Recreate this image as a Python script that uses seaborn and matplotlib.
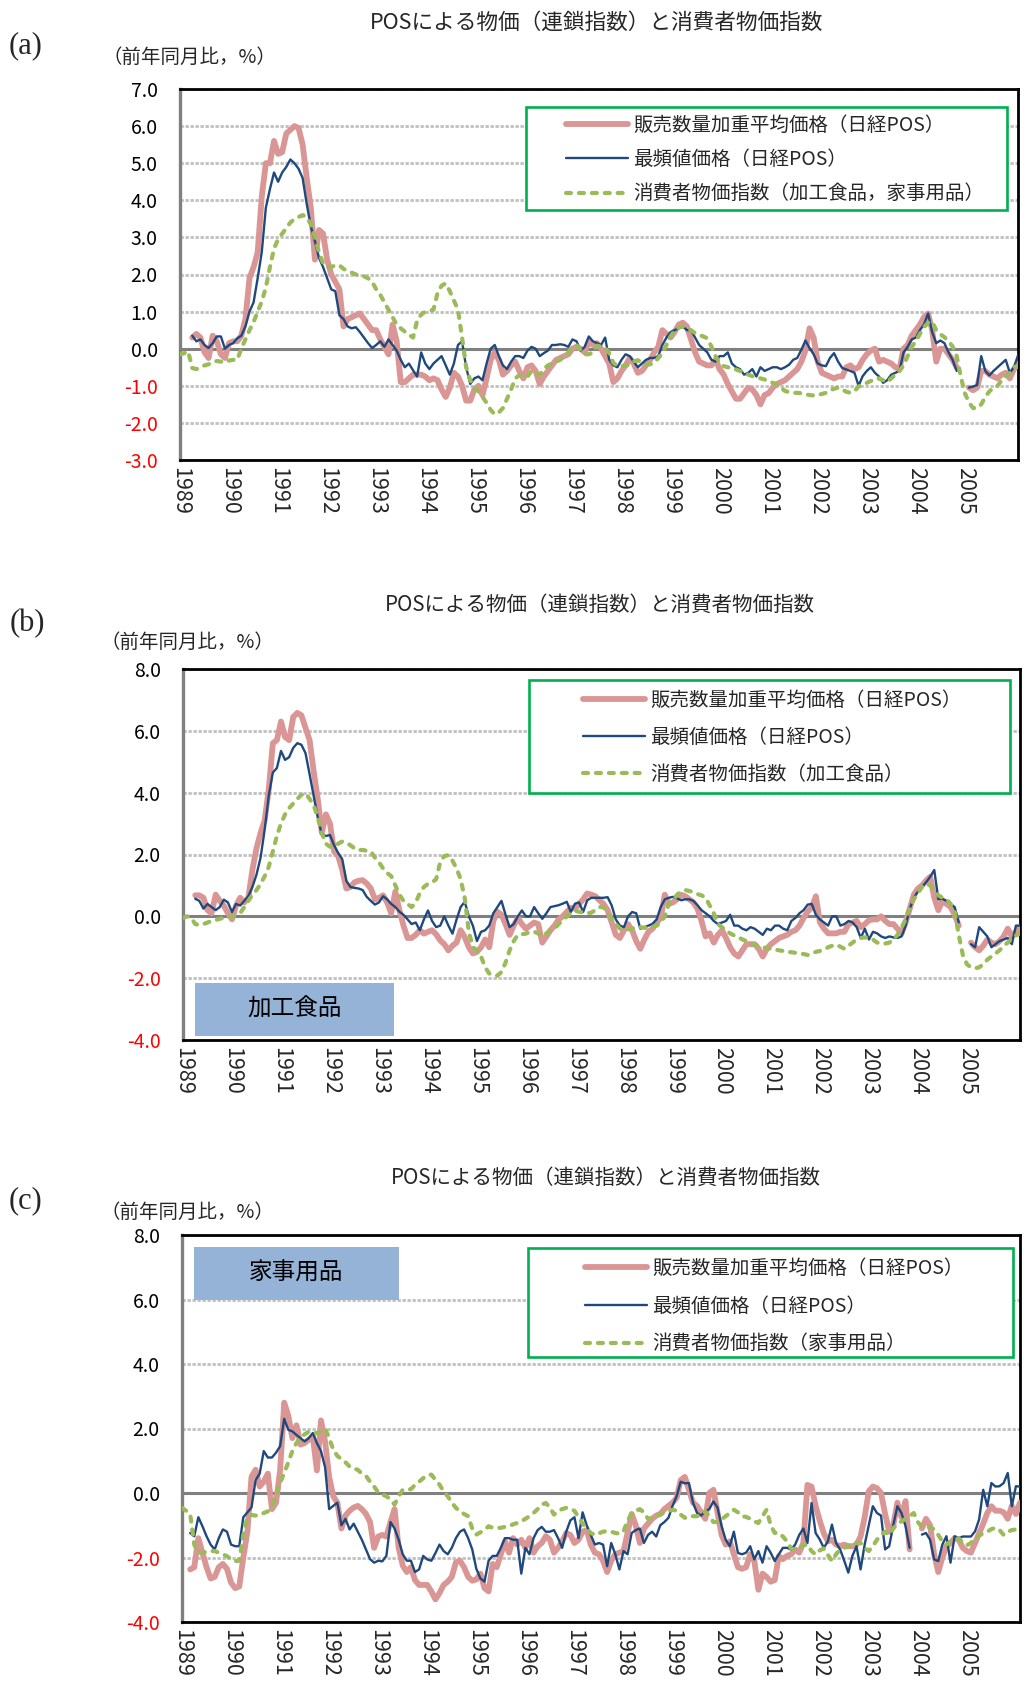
import numpy as np
import pandas as pd
import matplotlib
matplotlib.use("Agg")
import matplotlib.pyplot as plt
from matplotlib.patches import Rectangle
from matplotlib.lines import Line2D
import seaborn as sns

nan = np.nan

# Monthly year-on-year changes (%), Jan 1989 .. Feb 2006
years = [str(y) for y in range(1989, 2006)]
n_months = 206

# ---------------- (a) 加工食品・家事用品 ----------------
pos_avg_a = [
    nan, nan, nan, 0.3, 0.4, 0.3, -0.1, -0.25, 0.35, 0.2, -0.15, -0.25,
    0.15, 0.2, 0.2, 0.35, 0.8, 1.9, 2.2, 2.6, 4.1, 5.0, 5.0, 5.6,
    5.25, 5.3, 5.8, 5.9, 6.0, 5.95, 5.5, 4.6, 3.8, 2.4, 3.2, 3.1,
    2.4, 2.0, 1.8, 1.6, 0.6, 0.8, 0.85, 0.9, 0.95, 0.8, 0.65, 0.5,
    0.5, 0.25, 0.05, -0.15, 0.65, 0.2, -0.9, -0.9, -0.8, -0.7, -0.7, -0.7,
    -0.75, -0.85, -0.8, -0.85, -1.1, -1.3, -1.05, -0.65, -0.75, -1.0, -1.4, -1.4,
    -1.1, -1.0, -1.25, -0.8, -0.3, -0.1, -0.3, -0.7, -0.6, -0.45, -0.35, -0.6,
    -0.8, -0.5, -0.45, -0.6, -0.95, -0.75, -0.6, -0.45, -0.3, -0.25, -0.2, -0.15,
    0.0, 0.05, 0.0, -0.1, 0.2, 0.1, 0.15, 0.0, -0.2, -0.4, -0.9, -0.8,
    -0.6, -0.45, -0.25, -0.4, -0.65, -0.6, -0.45, -0.3, -0.1, 0.05, 0.5, 0.4,
    0.3, 0.45, 0.65, 0.7, 0.6, 0.25, -0.1, -0.35, -0.4, -0.45, -0.45, -0.3,
    -0.55, -0.7, -0.95, -1.15, -1.35, -1.35, -1.2, -1.05, -1.1, -1.25, -1.5, -1.25,
    -1.2, -1.05, -0.95, -0.9, -0.85, -0.75, -0.65, -0.55, -0.35, -0.05, 0.55, 0.3,
    -0.35, -0.65, -0.7, -0.75, -0.8, -0.75, -0.75, -0.5, -0.45, -0.55, -0.5, -0.3,
    -0.15, -0.05, 0.0, -0.35, -0.3, -0.35, -0.4, -0.5, -0.55, 0.0, 0.1, 0.35,
    0.5, 0.65, 0.85, 0.95, 0.5, -0.35, 0.0, 0.0, -0.15, -0.3, -0.5, nan,
    nan, -1.05, -1.12, -1.05, -0.6, -0.6, -0.7, -0.75, -0.8, -0.7, -0.65, -0.8,
    -0.55, -0.4,
]
pos_mode_a = [
    nan, nan, nan, 0.35, 0.2, 0.25, 0.1, 0.02, 0.15, 0.33, 0.33, 0.0,
    0.1, 0.15, 0.28, 0.35, 0.6, 1.0, 1.25, 1.9, 2.6, 3.8, 4.3, 4.75,
    4.5, 4.75, 4.9, 5.1, 5.0, 4.85, 4.6, 3.9, 3.3, 2.9, 2.45, 2.2,
    1.9, 1.6, 1.55, 0.9, 0.8, 0.6, 0.55, 0.58, 0.45, 0.3, 0.15, 0.02,
    0.1, 0.2, 0.05, 0.25, 0.1, -0.05, -0.3, -0.5, -0.4, -0.58, -0.75, -0.1,
    -0.4, -0.55, -0.4, -0.3, -0.2, -0.45, -0.7, -0.4, 0.1, 0.2, -0.5, -0.95,
    -0.8, -0.75, -0.85, -0.4, 0.0, 0.1, -0.2, -0.45, -0.55, -0.35, -0.2, -0.2,
    -0.25, -0.05, 0.05, 0.0, -0.2, -0.12, -0.05, 0.1, 0.1, 0.12, 0.1, 0.05,
    0.25, 0.2, -0.05, 0.05, 0.33, 0.2, 0.15, 0.1, 0.3, -0.3, -0.45, -0.5,
    -0.3, -0.15, -0.2, -0.35, -0.5, -0.4, -0.3, -0.25, -0.25, -0.2, 0.1, 0.3,
    0.45, 0.5, 0.55, 0.6, 0.5, 0.5, 0.3, 0.1, 0.0, -0.1, -0.3, -0.35,
    -0.2, -0.2, -0.1, -0.4, -0.5, -0.55, -0.7, -0.65, -0.55, -0.75, -0.5, -0.6,
    -0.55, -0.5, -0.5, -0.55, -0.5, -0.43, -0.3, -0.25, -0.03, 0.22, 0.02, -0.15,
    -0.4, -0.45, -0.47, -0.25, -0.12, -0.35, -0.52, -0.56, -0.6, -0.65, -1.0, -0.74,
    -0.6, -0.5, -0.65, -0.75, -0.92, -0.85, -0.7, -0.65, -0.6, -0.1, 0.05, 0.25,
    0.3, 0.5, 0.65, 0.95, 0.45, 0.15, 0.22, 0.15, -0.1, -0.3, -0.6, nan,
    nan, -1.05, -1.02, -0.98, -0.2, -0.6, -0.72, -0.6, -0.5, -0.4, -0.3, -0.65,
    -0.5, -0.18,
]
cpi_a = [
    -0.15, -0.12, -0.07, -0.52, -0.55, -0.5, -0.45, -0.42, -0.38, -0.33, -0.35, -0.3,
    -0.32, -0.3, -0.3, 0.0, 0.25, 0.5, 0.72, 1.0, 1.27, 1.65, 2.2, 2.7,
    2.95, 3.1, 3.25, 3.4, 3.5, 3.55, 3.6, 3.55, 3.35, 3.0, 2.6, 2.3,
    2.2, 2.2, 2.25, 2.25, 2.15, 2.1, 2.05, 2.0, 1.98, 1.95, 1.9, 1.8,
    1.6, 1.45, 1.25, 1.05, 0.85, 0.65, 0.55, 0.46, 0.38, 0.3, 0.75, 0.92,
    1.0, 1.02, 1.05, 1.5, 1.7, 1.76, 1.55, 1.3, 1.05, 0.3, -0.5, -0.85,
    -1.05, -1.15, -1.3, -1.46, -1.65, -1.77, -1.72, -1.6, -1.35, -1.1, -0.8, -0.72,
    -0.7, -0.75, -0.6, -0.7, -0.7, -0.55, -0.45, -0.4, -0.35, -0.3, -0.2, -0.1,
    0.05, 0.1, -0.03, -0.15, -0.15, -0.1, 0.08, 0.06, 0.03, -0.12, -0.38, -0.47,
    -0.47, -0.45, -0.43, -0.34, -0.31, -0.38, -0.43, -0.42, -0.38, -0.25, -0.12, 0.1,
    0.33, 0.5, 0.57, 0.6, 0.55, 0.5, 0.42, 0.37, 0.33, 0.28, 0.06, -0.2,
    -0.38, -0.47, -0.5, -0.52, -0.56, -0.6, -0.65, -0.7, -0.74, -0.77, -0.8, -0.83,
    -0.87, -0.92, -0.96, -1.05, -1.14, -1.17, -1.19, -1.19, -1.2, -1.23, -1.25, -1.26,
    -1.25, -1.22, -1.19, -1.12, -1.08, -1.05, -1.1, -1.16, -1.19, -1.14, -1.02, -0.96,
    -0.92, -0.87, -0.86, -0.8, -0.85, -0.9, -0.8, -0.7, -0.6, -0.45, -0.2, 0.05,
    0.2, 0.4, 0.58, 0.7, 0.73, 0.5, 0.39, 0.31, 0.2, 0.06, -0.2, -0.75,
    -1.2, -1.45, -1.6, -1.6, -1.5, -1.3, -1.15, -1.05, -1.0, -0.85, -0.75, -0.65,
    -0.5, -0.45,
]

# ---------------- (b) 加工食品 ----------------
pos_avg_b = [
    nan, nan, nan, 0.68, 0.68, 0.6, 0.2, 0.1, 0.7, 0.5, 0.35, 0.1,
    -0.1, 0.35, 0.6, 0.45, 0.6, 1.5, 2.2, 2.7, 3.1, 4.1, 5.6, 5.7,
    6.3, 5.8, 5.7, 6.45, 6.58, 6.5, 6.1, 5.7, 4.7, 3.8, 2.7, 3.3,
    3.0, 2.1, 1.95, 1.5, 0.9, 0.95, 1.1, 1.15, 1.17, 1.06, 0.9, 0.55,
    0.6, 0.68, 0.45, 0.1, 0.8, 0.2, -0.3, -0.7, -0.7, -0.6, -0.45, -0.56,
    -0.5, -0.45, -0.58, -0.78, -0.9, -1.1, -0.95, -0.85, -0.45, -0.67, -1.0, -1.2,
    -1.15, -1.0, -0.75, -1.0, -0.15, 0.15, 0.05, -0.25, -0.6, -0.3, -0.05, -0.25,
    -0.4, -0.3, -0.2, -0.25, -0.85, -0.65, -0.45, -0.3, -0.1, 0.0, 0.14, 0.28,
    0.25, 0.4, 0.55, 0.74, 0.7, 0.65, 0.52, 0.4, 0.2, -0.2, -0.6, -0.7,
    -0.45, -0.25, -0.45, -0.8, -1.05, -0.75, -0.5, -0.4, -0.2, -0.05, 0.7, 0.4,
    0.45, 0.55, 0.7, 0.65, 0.55, 0.45, 0.25, -0.15, -0.65, -0.55, -0.85, -0.6,
    -0.45, -0.7, -1.0, -1.2, -1.3, -1.1, -0.9, -0.9, -0.9, -1.05, -1.3, -1.05,
    -0.9, -0.8, -0.7, -0.65, -0.6, -0.5, -0.45, -0.3, -0.05, 0.15, 0.3, 0.65,
    -0.2, -0.4, -0.55, -0.55, -0.55, -0.5, -0.5, -0.25, -0.2, -0.15, -0.35, -0.25,
    -0.13, -0.1, -0.1, 0.0, -0.15, -0.25, -0.25, -0.4, -0.55, -0.2, 0.25, 0.7,
    0.9, 1.0, 1.15, 1.28, 0.6, 0.2, 0.5, 0.4, 0.3, 0.05, -0.3, nan,
    nan, -0.85, -1.0, -1.1, -0.95, -0.75, -0.85, -0.9, -0.8, -0.65, -0.4, -0.65,
    -0.5, -0.35,
]
pos_mode_b = [
    nan, nan, nan, 0.57, 0.5, 0.25, 0.4, 0.3, 0.2, 0.3, 0.54, 0.45,
    0.14, 0.4, 0.35, 0.5, 0.65, 0.95, 1.35, 1.9, 2.8, 3.9, 4.65, 4.8,
    5.35, 5.06, 5.15, 5.45, 5.6, 5.55, 5.28, 4.6, 3.9, 3.2, 2.65, 2.6,
    2.63, 2.3, 2.05, 1.85, 1.15, 0.95, 0.92, 0.9, 0.85, 0.63, 0.5, 0.38,
    0.45, 0.65, 0.55, 0.4, 0.3, 0.15, 0.05, -0.1, -0.25, -0.2, -0.45, -0.1,
    0.19, -0.15, -0.35, -0.3, 0.0, -0.3, -0.56, -0.1, 0.3, 0.47, 0.0, -0.3,
    -0.8, -0.5, -0.45, -0.3, 0.1, 0.3, 0.5, 0.05, -0.35, -0.25, 0.0, 0.19,
    0.0, 0.0, 0.3, 0.1, -0.08, 0.1, 0.3, 0.33, 0.36, 0.41, 0.47, 0.14,
    0.41, 0.45, 0.14, 0.52, 0.6, 0.6, 0.6, 0.6, 0.62, 0.35, -0.1, -0.3,
    -0.35, 0.0, 0.14, 0.1, -0.4, -0.35, -0.3, -0.24, -0.1, 0.3, 0.55, 0.6,
    0.63, 0.58, 0.52, 0.55, 0.55, 0.5, 0.36, 0.2, 0.1, 0.0, -0.15, -0.25,
    -0.2, -0.15, 0.05, -0.3, -0.3, -0.4, -0.45, -0.35, -0.4, -0.5, -0.6, -0.4,
    -0.45, -0.3, -0.3, -0.4, -0.45, -0.15, -0.05, 0.1, 0.2, 0.38, 0.4, 0.05,
    -0.1, -0.2, -0.3, 0.0, 0.0, -0.3, -0.25, -0.15, -0.2, -0.35, -0.7, -0.4,
    -0.75, -0.5, -0.55, -0.65, -0.7, -0.65, -0.68, -0.7, -0.65, -0.3, 0.25, 0.6,
    0.8, 0.95, 1.1, 1.28, 1.5, 0.55, 0.57, 0.5, 0.4, 0.3, -0.2, nan,
    nan, -0.9, -1.0, -0.35, -0.5, -0.65, -1.0, -0.9, -0.8, -0.75, -0.7, -0.9,
    -0.3, -0.3,
]
cpi_b = [
    -0.05, 0.0, -0.05, -0.25, -0.28, -0.25, -0.2, -0.15, -0.12, -0.08, -0.05, -0.03,
    0.0, 0.05, 0.1, 0.3, 0.5, 0.7, 0.85, 1.05, 1.3, 1.6, 2.1, 2.6,
    3.0, 3.3, 3.5, 3.65, 3.8, 3.93, 3.98, 3.8, 3.6, 3.2, 2.7, 2.35,
    2.25, 2.25, 2.35, 2.42, 2.38, 2.3, 2.2, 2.14, 2.15, 2.12, 2.1, 1.9,
    1.75, 1.55, 1.4, 1.3, 1.0, 0.7, 0.5, 0.4, 0.3, 0.45, 0.75, 0.95,
    1.05, 1.1, 1.2, 1.75, 1.95, 1.98, 1.8, 1.55, 1.2, 0.6, -0.5, -1.0,
    -1.1, -1.3, -1.65, -1.85, -1.9, -1.92, -1.8, -1.5, -1.1, -0.8, -0.6, -0.58,
    -0.56, -0.5, -0.5, -0.55, -0.65, -0.55, -0.45, -0.4, -0.25, -0.13, 0.0, 0.09,
    0.18, 0.15, 0.12, 0.1, 0.12, 0.2, 0.3, 0.3, 0.1, -0.1, -0.25, -0.4,
    -0.4, -0.42, -0.4, -0.35, -0.35, -0.37, -0.37, -0.33, -0.3, -0.2, 0.0, 0.4,
    0.5, 0.7, 0.8, 0.85, 0.82, 0.78, 0.72, 0.68, 0.6, 0.35, 0.1, -0.25,
    -0.35, -0.45, -0.55, -0.62, -0.67, -0.75, -0.8, -0.88, -0.92, -0.97, -1.0, -1.03,
    -1.05, -1.07, -1.1, -1.12, -1.15, -1.16, -1.18, -1.2, -1.22, -1.25, -1.2, -1.15,
    -1.12, -1.08, -1.0, -0.95, -0.92, -0.98, -1.05, -0.95, -0.85, -0.75, -0.7, -0.68,
    -0.7, -0.75, -0.85, -0.88, -0.88, -0.85, -0.75, -0.6, -0.35, -0.1, 0.3, 0.55,
    0.75, 0.95, 1.05, 1.0, 0.85, 0.68, 0.6, 0.55, 0.4, 0.15, -0.6, -1.25,
    -1.55, -1.65, -1.68, -1.65, -1.55, -1.4, -1.3, -1.2, -1.1, -0.95, -0.85, -0.72,
    -0.62, -0.55,
]

# ---------------- (c) 家事用品 ----------------
pos_avg_c = [
    nan, nan, -2.37, -2.3, -1.4, -1.85, -2.3, -2.65, -2.6, -2.3, -2.2, -2.35,
    -2.78, -2.95, -2.9, -2.0, -1.2, 0.5, 0.72, 0.2, 0.35, 0.6, -0.5, -0.3,
    0.7, 2.8, 2.4, 1.7, 2.1, 1.5, 1.55, 1.65, 1.75, 0.7, 2.25, 1.6,
    0.5, -0.1, -0.3, -1.1, -0.7, -0.55, -0.45, -0.4, -0.5, -0.65, -0.9, -1.7,
    -1.35, -1.3, -1.35, -0.9, -0.5, -1.7, -2.25, -2.45, -2.3, -2.7, -2.85, -2.85,
    -2.85, -3.05, -3.3, -3.1, -2.85, -2.75, -2.6, -2.15, -2.1, -2.3, -2.6, -2.72,
    -2.68, -2.5, -2.95, -3.05, -2.2, -2.3, -1.9, -1.5, -1.85, -1.4, -1.6, -1.45,
    -1.7, -1.4, -1.85, -1.65, -1.55, -1.34, -1.45, -1.85, -1.7, -1.5, -1.24, -1.3,
    -1.55, -1.45, -1.2, -1.15, -1.6, -1.85, -1.9, -2.1, -2.45, -2.1, -1.9, -1.85,
    -1.8, -1.24, -0.65, -1.0, -1.55, -1.1, -0.95, -0.8, -0.7, -0.65, -0.5, -0.4,
    -0.3, -0.15, 0.4, 0.5, 0.1, -0.3, -0.4, -0.6, -0.8, 0.0, 0.1, -0.6,
    -1.3, -1.6, -1.5, -1.9, -2.3, -2.35, -2.3, -1.9, -2.1, -3.0, -2.5, -2.6,
    -2.75, -2.7, -1.96, -2.05, -1.95, -1.9, -1.75, -1.85, -1.55, 0.25, 0.2, -0.4,
    -0.85, -1.25, -1.5, -1.45, -1.6, -1.65, -1.6, -1.65, -1.65, -1.6, -1.35, -0.75,
    0.05, 0.2, 0.15, 0.0, -0.65, -1.2, -1.0, -0.3, -0.75, -0.25, -1.75, nan,
    nan, -1.1, -0.8, -1.0, -1.9, -2.45, -2.0, -1.65, -1.55, -1.4, -1.45, -1.7,
    -1.8, -1.85, -1.55, -1.25, -0.95, -0.62, -0.41, -0.55, -0.55, -0.6, -0.8, -0.4,
    -0.65, -0.3,
]
pos_mode_c = [
    nan, nan, -1.24, -1.34, -0.75, -1.03, -1.34, -1.6, -1.75, -1.4, -1.13, -1.2,
    -1.6, -1.65, -1.65, -0.75, -0.6, -0.45, 0.4, 0.6, 1.3, 1.1, 1.1, 1.25,
    1.45, 2.3, 1.96, 1.91, 1.8, 1.7, 1.6, 1.7, 1.86, 1.55, 1.3, 0.8,
    -0.5, -0.4, -0.3, -1.0, -0.8, -1.13, -0.95, -1.2, -1.45, -1.75, -2.05, -2.16,
    -2.1, -2.12, -1.95, -0.9, -1.1, -1.45, -1.9, -2.1, -2.1, -2.45, -2.37, -1.95,
    -2.06, -2.1, -1.86, -1.6, -1.8, -1.9, -1.7, -1.4, -1.2, -1.13, -1.4, -1.75,
    -2.35, -2.65, -2.75, -2.1, -1.95, -1.95, -1.7, -1.4, -1.4, -1.45, -1.45, -2.5,
    -1.7, -1.9, -1.4, -1.15, -1.05, -1.2, -1.2, -1.15, -1.4, -1.7, -1.2, -0.85,
    -0.75, -1.4, -0.6, -1.0, -1.3, -1.6, -1.55, -1.6, -2.27, -1.55, -1.9, -2.37,
    -1.8, -1.9, -1.24, -1.15, -1.1, -1.55, -1.3, -1.2, -1.35, -1.0, -0.9, -0.77,
    -0.4, -0.1, 0.35, 0.3, 0.31, -0.3, -0.62, -0.7, -0.57, -0.5, -0.26, -0.45,
    -1.03, -1.45, -1.65, -1.2, -1.86, -1.9, -1.85, -1.65, -2.06, -1.8, -2.16, -1.65,
    -1.85, -2.11, -1.9, -1.7, -1.7, -1.75, -1.6, -1.3, -1.1, -1.55, -0.31, -1.24,
    -1.44, -1.7, -1.5, -0.98, -1.55, -1.75, -2.1, -2.47, -1.95, -1.65, -2.37, -1.6,
    -1.0, -0.41, -0.62, -0.7, -1.75, -1.65, -1.0, -0.41, -0.62, -1.03, -1.7, nan,
    nan, -1.29, -1.24, -1.45, -2.06, -2.11, -1.6, -1.34, -2.16, -1.34, -1.4, -1.35,
    -1.35, -1.35, -1.19, -0.82, 0.1, -0.41, 0.31, 0.2, 0.21, 0.31, 0.62, -0.41,
    0.21, 0.2,
]
cpi_c = [
    -0.46, -0.55, -0.65, -1.6, -1.85, -1.85, -1.82, -1.8, -1.8, -1.85, -1.9, -1.96,
    -2.05, -2.11, -2.1, -1.3, -0.75, -0.68, -0.7, -0.68, -0.62, -0.57, -0.41, -0.1,
    0.31, 0.62, 0.95, 1.3, 1.55, 1.72, 1.82, 1.9, 1.88, 1.86, 1.92, 2.01,
    1.7, 1.35, 1.15, 1.05, 0.95, 0.82, 0.76, 0.72, 0.6, 0.53, 0.35, 0.2,
    0.02, -0.05, -0.1, -0.2, -0.36, -0.1, 0.1, 0.1, 0.12, 0.25, 0.35, 0.46,
    0.55, 0.57, 0.41, 0.26, 0.05, -0.1, -0.3, -0.46, -0.57, -0.65, -0.72, -1.1,
    -1.29, -1.22, -1.15, -1.03, -1.08, -1.08, -1.08, -1.05, -1.03, -0.97, -0.93, -0.88,
    -0.8, -0.72, -0.62, -0.5, -0.36, -0.31, -0.45, -0.67, -0.55, -0.5, -0.46, -0.5,
    -0.55, -0.75, -0.95, -1.1, -1.24, -1.3, -1.25, -1.2, -1.18, -1.2, -1.24, -1.26,
    -1.2, -0.85, -0.65, -0.55, -0.5, -0.6, -0.8, -0.78, -0.7, -0.67, -0.6, -0.56,
    -0.52, -0.55, -0.67, -0.77, -0.72, -0.72, -0.72, -0.67, -0.57, -0.72, -0.9, -0.9,
    -0.82, -0.72, -0.62, -0.52, -0.6, -0.72, -0.74, -0.8, -0.88, -0.93, -0.72, -0.52,
    -1.0, -1.24, -1.24, -1.35, -1.5, -1.72, -1.75, -1.7, -1.62, -1.6, -1.8, -1.91,
    -1.78, -1.72, -1.92, -2.11, -1.9, -1.75, -1.7, -1.65, -1.55, -1.55, -1.55, -1.7,
    -1.8, -1.65, -1.45, -1.3, -1.2, -1.3, -1.1, -0.95, -0.88, -0.8, -0.72, -0.62,
    -0.9, -1.05, -1.05, -1.05, -1.13, -1.3, -1.5, -1.6, -1.5, -1.45, -1.4, -1.55,
    -1.62, -1.55, -1.4, -1.32, -1.25, -1.2, -1.12, -1.08, -1.15, -1.3, -1.2, -1.15,
    -1.13, -1.13,
]

for arr in (pos_avg_a, pos_mode_a, cpi_a, pos_avg_b, pos_mode_b, cpi_b,
            pos_avg_c, pos_mode_c, cpi_c):
    assert len(arr) == n_months, len(arr)

label_avg = "販売数量加重平均価格（日経POS）"
label_mode = "最頻値価格（日経POS）"
title_text = "POSによる物価（連鎖指数）と消費者物価指数"
unit_text = "（前年同月比，%）"

PINK, BLUE, GREEN = "#D99694", "#1F497D", "#9BBB59"
LW_PINK, LW_BLUE, LW_GREEN = 4.2, 1.7, 3.0
GREEN_DASH = (0, (1.2, 1.9))

sns.set_style("white")
plt.rcParams["font.family"] = ["Noto Sans CJK JP", "DejaVu Sans"]
plt.rcParams["axes.unicode_minus"] = False

W, H = 1028, 1693
fig = plt.figure(figsize=(W / 100, H / 100), dpi=100)
fig.patch.set_facecolor("white")


def fx(x):
    return x / W


def fy(y):
    return 1 - y / H


def long_frame(series):
    rows = []
    for name, vals in series:
        arr = np.asarray(vals, dtype=float)
        seg = np.cumsum(np.isnan(arr))
        for i, (v, s) in enumerate(zip(arr, seg)):
            if not np.isnan(v):
                rows.append((name, i, v, int(s)))
    return pd.DataFrame(rows, columns=["series", "month", "value", "segment"])


panels = [
    dict(letter="(a)", box=(180, 1018, 89, 460), ylim=(-3, 7), step=1,
         title_xy=(597, 23), title_size=15.6, unit_xy=(189, 57), letter_xy=(26, 46),
         data=(pos_avg_a, pos_mode_a, cpi_a),
         cpi_label="消費者物価指数（加工食品，家事用品）",
         legend_box=(526, 107, 1007, 210), legend_xy=(566, 115), legend_sp=0.68,
         tag=None),
    dict(letter="(b)", box=(183, 1020, 669, 1040), ylim=(-4, 8), step=2,
         title_xy=(600, 605), title_size=14.8, unit_xy=(187, 642), letter_xy=(27, 624),
         data=(pos_avg_b, pos_mode_b, cpi_b),
         cpi_label="消費者物価指数（加工食品）",
         legend_box=(529, 680, 1010, 793), legend_xy=(583, 690), legend_sp=0.82,
         tag=("加工食品", (195, 983, 394, 1036))),
    dict(letter="(c)", box=(182, 1020, 1235, 1622), ylim=(-4, 8), step=2,
         title_xy=(606, 1178), title_size=14.8, unit_xy=(187, 1212), letter_xy=(26, 1201),
         data=(pos_avg_c, pos_mode_c, cpi_c),
         cpi_label="消費者物価指数（家事用品）",
         legend_box=(528, 1248, 1013, 1357), legend_xy=(585, 1258), legend_sp=0.86,
         tag=("家事用品", (194, 1247, 399, 1300))),
]

for p in panels:
    left, right, top, bottom = p["box"]
    ax = fig.add_axes([fx(left), fy(bottom), (right - left) / W, (bottom - top) / H])
    ax.set_facecolor("white")

    avg, mode, cpi = p["data"]
    df = long_frame([("avg", avg), ("mode", mode), ("cpi", cpi)])

    sns.lineplot(data=df[df.series == "avg"], x="month", y="value", units="segment",
                 estimator=None, color=PINK, linewidth=LW_PINK, legend=False, ax=ax,
                 solid_joinstyle="round", solid_capstyle="round", zorder=3)
    sns.lineplot(data=df[df.series == "mode"], x="month", y="value", units="segment",
                 estimator=None, color=BLUE, linewidth=LW_BLUE, legend=False, ax=ax,
                 solid_joinstyle="round", zorder=4)
    sns.lineplot(data=df[df.series == "cpi"], x="month", y="value", units="segment",
                 estimator=None, color=GREEN, linewidth=LW_GREEN, legend=False, ax=ax,
                 linestyle=GREEN_DASH, dash_capstyle="round", zorder=5)

    ymin, ymax = p["ylim"]
    ax.set_xlim(0, n_months - 1)
    ax.set_ylim(ymin, ymax)
    ax.set_xlabel("")
    ax.set_ylabel("")

    yt = np.arange(ymin, ymax + 0.001, p["step"])
    ax.set_yticks(yt)
    ax.set_yticklabels([f"{t:.1f}" for t in yt])
    for lab, t in zip(ax.get_yticklabels(), yt):
        lab.set_color("#FF0000" if t < 0 else "black")
    ax.set_xticks(np.arange(0, 12 * len(years), 12))
    ax.set_xticklabels(years, rotation=-90, va="top", ha="center")
    ax.tick_params(axis="y", length=0, pad=16, labelsize=14)
    ax.tick_params(axis="x", length=0, pad=5, labelsize=15.5)

    for t in yt:
        if t != 0:
            ax.axhline(t, color="#C0C0C0", lw=2.0, ls=(0, (1.2, 0.6)), zorder=1)
    ax.axhline(0, color="#808080", lw=2.2, zorder=2)

    for side in ("top", "right", "bottom"):
        ax.spines[side].set_color("black")
        ax.spines[side].set_linewidth(2.0)
    ax.spines["left"].set_color("#808080")
    ax.spines["left"].set_linewidth(2.4)

    # legend frame and entries
    bx0, by0, bx1, by1 = p["legend_box"]
    ax.add_patch(Rectangle((fx(bx0), fy(by1)), (bx1 - bx0) / W, (by1 - by0) / H,
                           transform=fig.transFigure, facecolor="white",
                           edgecolor="#00B050", lw=1.9, zorder=7, clip_on=False))
    handles = [
        Line2D([], [], color=PINK, lw=LW_PINK, solid_capstyle="round"),
        Line2D([], [], color=BLUE, lw=LW_BLUE),
        Line2D([], [], color=GREEN, lw=LW_GREEN, linestyle=GREEN_DASH,
               dash_capstyle="round"),
    ]
    lx, ly = p["legend_xy"]
    leg = ax.legend(handles, [label_avg, label_mode, p["cpi_label"]],
                    loc="upper left", bbox_to_anchor=(fx(lx), fy(ly)),
                    bbox_transform=fig.transFigure, frameon=False, borderpad=0,
                    borderaxespad=0, handlelength=3.2, handletextpad=0.25,
                    labelspacing=p["legend_sp"], fontsize=14)
    leg.set_zorder(8)

    if p["tag"] is not None:
        text, (tx0, ty0, tx1, ty1) = p["tag"]
        ax.add_patch(Rectangle((fx(tx0), fy(ty1)), (tx1 - tx0) / W, (ty1 - ty0) / H,
                               transform=fig.transFigure, facecolor="#95B3D7",
                               edgecolor="none", zorder=7, clip_on=False))
        ax.text(fx((tx0 + tx1) / 2), fy((ty0 + ty1) / 2), text, transform=fig.transFigure,
                ha="center", va="center", fontsize=17, color="black", zorder=8)

    fig.text(fx(p["title_xy"][0]), fy(p["title_xy"][1]), title_text,
             ha="center", va="center", fontsize=p["title_size"])
    fig.text(fx(p["unit_xy"][0]), fy(p["unit_xy"][1]), unit_text,
             ha="center", va="center", fontsize=14)
    fig.text(fx(p["letter_xy"][0]), fy(p["letter_xy"][1]), p["letter"],
             ha="center", va="center", fontsize=22, family="Liberation Serif")

fig.savefig("out.png", dpi=100, facecolor="white")
